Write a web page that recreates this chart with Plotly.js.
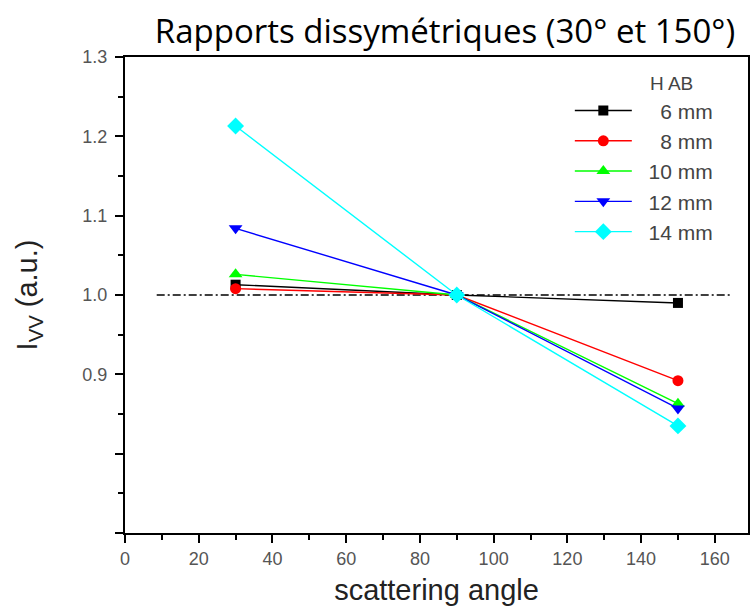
<!DOCTYPE html>
<html>
<head>
<meta charset="utf-8">
<script src="https://cdn.plot.ly/plotly-3.0.1.min.js"></script>
<style>html,body{margin:0;padding:0;background:#fff;}#chart{width:753px;height:614px;}</style>
</head>
<body>
<div id="chart"></div>
<script>
// Scattering angles (degrees)
const angles = [30, 90, 150];
// Series names (H AB)
const seriesNames = ['\u00a0\u00a0\u20076 mm', '\u00a0\u00a0\u20078 mm', '\u00a0\u00a010 mm', '\u00a0\u00a012 mm', '\u00a0\u00a014 mm'];
// I_VV values (a.u.)
const h6  = [1.013, 1.000, 0.990];
const h8  = [1.008, 1.000, 0.892];
const h10 = [1.026, 1.000, 0.863];
const h12 = [1.084, 1.000, 0.857];
const h14 = [1.213, 1.000, 0.835];
// Reference line at I_VV = 1
const refX = [8.6, 164.3];
const refY = [1.0, 1.0];
// Tick labels
const xTicks = [0, 20, 40, 60, 80, 100, 120, 140, 160];
const yTickVals = [0.7, 0.8, 0.9, 1.0, 1.1, 1.2, 1.3];
const yTickText = ['', '', '0.9', '1.0', '1.1', '1.2', '1.3'];

const seriesValues = [h6, h8, h10, h12, h14];
const colors = ['#000000', '#ff0000', '#00ff00', '#0000ff', '#00ffff'];
const symbols = ['square', 'circle', 'triangle-up', 'triangle-down', 'diamond'];
const sizes = [10, 11, 12, 12, 13];

const traces = [{
  x: refX, y: refY, mode: 'lines', showlegend: false, hoverinfo: 'skip',
  line: {color: '#000000', width: 1.5, dash: '8px,3px,2px,3px'}
}];
seriesValues.forEach((vals, i) => {
  traces.push({
    x: angles, y: vals, name: seriesNames[i], mode: 'lines+markers',
    line: {color: colors[i], width: 1.4},
    marker: {color: colors[i], symbol: symbols[i], size: sizes[i], line: {width: 0}}
  });
});

const tickFont = {family: 'Liberation Sans, Arial, sans-serif', size: 18, color: '#555555'};
const layout = {
  width: 753, height: 614,
  margin: {l: 125, r: 5, t: 57, b: 81},
  paper_bgcolor: '#ffffff', plot_bgcolor: '#ffffff',
  showlegend: true,
  title: {
    text: 'Rapports dissymétriques (30° et 150°)',
    font: {family: 'Open Sans, sans-serif', size: 33, color: '#000000'},
    xref: 'container', x: 0.591, xanchor: 'center',
    yref: 'container', y: 0.948, yanchor: 'middle'
  },
  xaxis: {
    range: [0, 169], tickmode: 'array', tickvals: xTicks,
    ticks: 'outside', ticklen: 8, tickwidth: 2, tickcolor: '#000',
    minor: {tickmode: 'linear', tick0: 10, dtick: 20, ticks: 'outside', ticklen: 5, tickwidth: 2, tickcolor: '#000'},
    showline: true, linecolor: '#000', linewidth: 2, mirror: true,
    showgrid: false, zeroline: false,
    tickfont: tickFont,
    title: {text: 'scattering angle', font: {family: 'Liberation Sans, Arial, sans-serif', size: 29, color: '#222'}, standoff: 12}
  },
  yaxis: {
    range: [0.7, 1.3], tickmode: 'array', tickvals: yTickVals, ticktext: yTickText,
    ticks: 'outside', ticklen: 8, tickwidth: 2, tickcolor: '#000',
    minor: {tickmode: 'linear', tick0: 0.75, dtick: 0.1, ticks: 'outside', ticklen: 5, tickwidth: 2, tickcolor: '#000'},
    showline: true, linecolor: '#000', linewidth: 2, mirror: true,
    showgrid: false, zeroline: false,
    ticklabelstandoff: 4,
    tickfont: tickFont,
    title: {text: 'I<sub>VV</sub> (a.u.)', font: {family: 'Liberation Sans, Arial, sans-serif', size: 29, color: '#222'}, standoff: 36}
  },
  legend: {
    x: 0.714, xanchor: 'left', y: 0.93, yanchor: 'top',
    bgcolor: 'rgba(0,0,0,0)', borderwidth: 0,
    itemwidth: 57,
    font: {family: 'Liberation Sans, Arial, sans-serif', size: 21, color: '#444444'}
  },
  annotations: [{
    text: 'H AB', xref: 'paper', yref: 'paper', x: 0.84, y: 0.945,
    xanchor: 'left', yanchor: 'middle', showarrow: false,
    font: {family: 'Liberation Sans, Arial, sans-serif', size: 19, color: '#444444'}
  }]
};

Plotly.newPlot('chart', traces, layout, {displayModeBar: false, staticPlot: true});
</script>
</body>
</html>
